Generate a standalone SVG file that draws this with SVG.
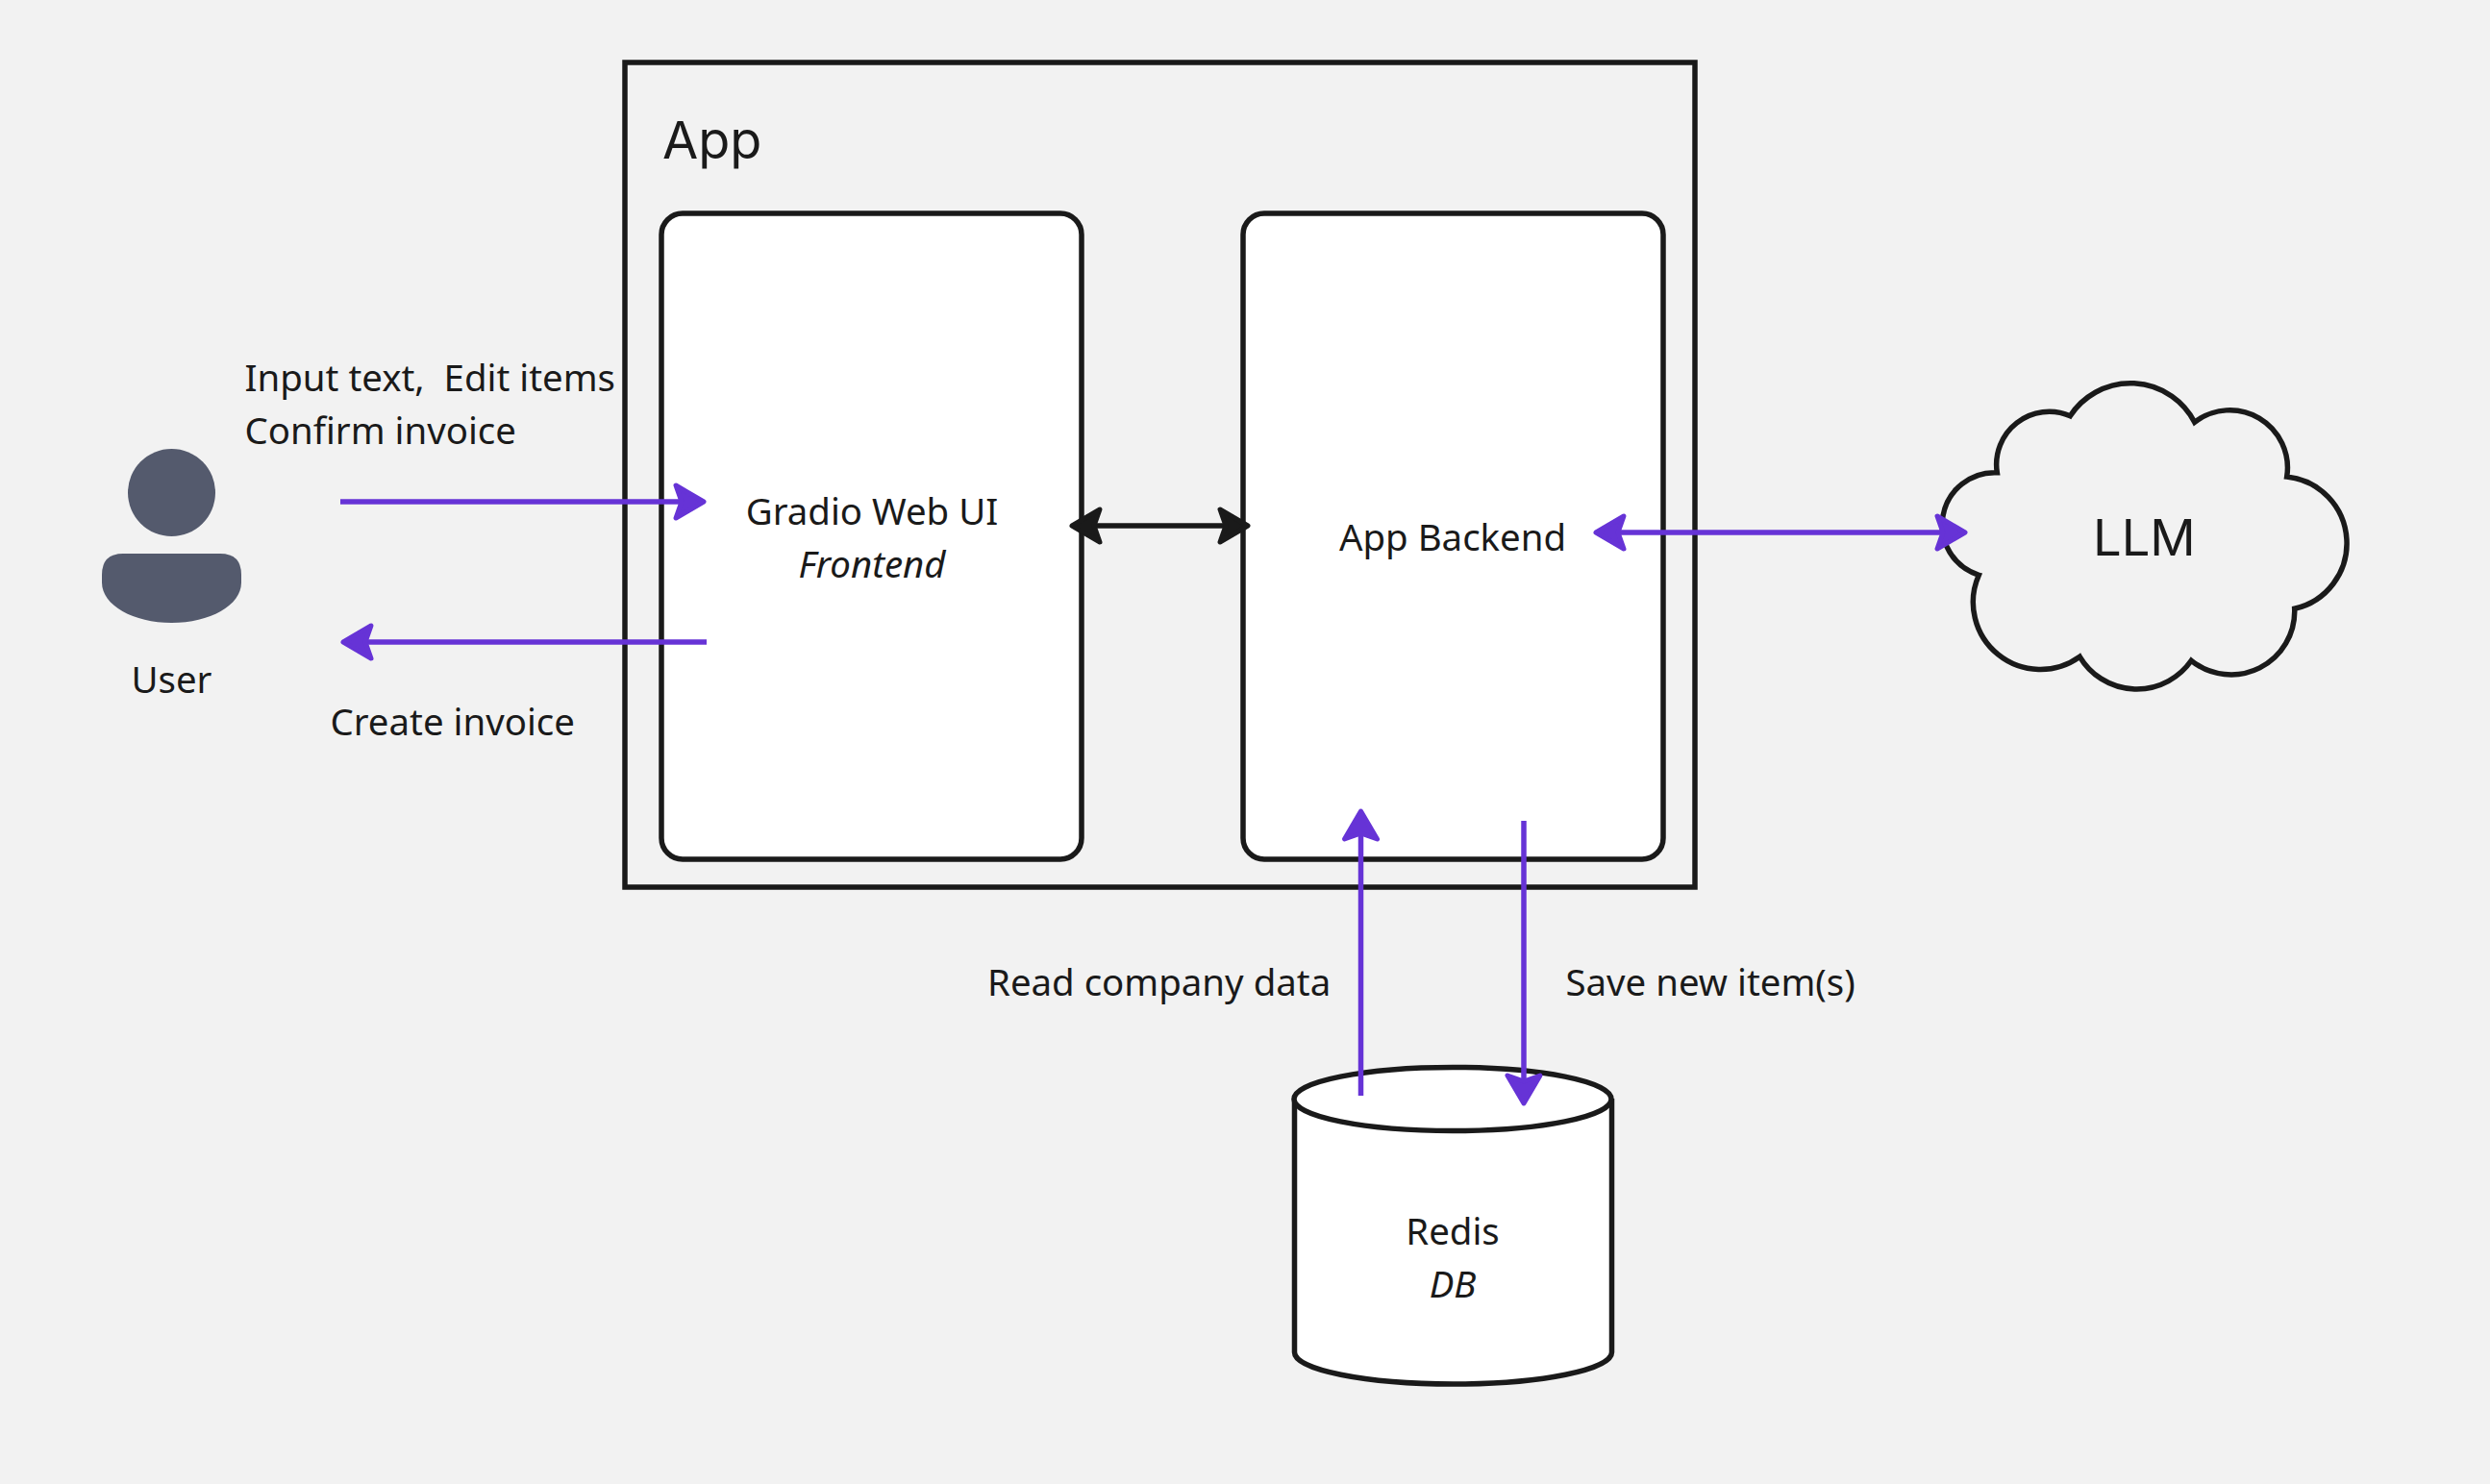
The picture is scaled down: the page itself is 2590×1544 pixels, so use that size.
<svg xmlns="http://www.w3.org/2000/svg" width="2590" height="1544" viewBox="0 0 2590 1544">
<style>
.box{fill:#fff;stroke:#1a1a1a;stroke-width:5.500;stroke-linejoin:round}
.t{font-family:"Noto Sans","DejaVu Sans",sans-serif;font-size:38.400px;fill:#1a1a1a}
.c{text-anchor:middle}
.i{font-style:italic}
.big{font-family:Inter,"Liberation Sans",sans-serif;fill:#1a1a1a}
.p{fill:none;stroke:#6633d6;stroke-width:5.500}
.k{fill:none;stroke:#1a1a1a;stroke-width:5.500}
</style>
<defs>
<marker id="hp" markerUnits="userSpaceOnUse" markerWidth="48" markerHeight="52" refX="27" refY="26" orient="auto-start-reverse"><path d="M5 9L34 26L5 43L11 26Z" fill="#6633d6" stroke="#6633d6" stroke-width="5" stroke-linejoin="round"/></marker>
<marker id="hk" markerUnits="userSpaceOnUse" markerWidth="48" markerHeight="52" refX="27" refY="26" orient="auto-start-reverse"><path d="M5 9L34 26L5 43L11 26Z" fill="#1a1a1a" stroke="#1a1a1a" stroke-width="5" stroke-linejoin="round"/></marker>
</defs>
<rect width="2590" height="1544" fill="#f2f2f2"/>
<g id="app"><rect x="650" y="65" width="1113" height="858" fill="none" stroke="#1a1a1a" stroke-width="5.500"/><text class="big" font-size="54" x="689" y="165">App</text></g>
<g id="frontend"><rect class="box" x="688" y="222" width="437" height="672" rx="22"/><text class="t c" x="907" y="546">Gradio Web UI</text><text class="t c i" x="907" y="601">Frontend</text></g>
<g id="backend"><rect class="box" x="1293" y="222" width="437" height="672" rx="22"/><text class="t c" x="1511" y="573">App Backend</text></g>
<g id="user"><circle cx="178.500" cy="512.500" r="45.500" fill="#545a6d"/><path d="M128 576H229Q251 576 251 598V606C251 630 218 648 178.500 648S106 630 106 606V598Q106 576 128 576Z" fill="#545a6d"/><text class="t c" x="178.500" y="721">User</text></g>
<g id="llm"><path d="M2077.300 491.700A55 55 0 0 1 2153.300 432.700A75 75 0 0 1 2282.700 439.300A60 60 0 0 1 2378.700 496A69.700 69.700 0 0 1 2386.700 633.300A66 66 0 0 1 2279.300 687.300A69 69 0 0 1 2163.300 683.300A70 70 0 0 1 2058.300 598.300A54.600 54.600 0 0 1 2077.300 491.700Z" fill="none" stroke="#1a1a1a" stroke-width="5.500"/><text class="big" font-size="52.500" x="2177" y="578">LLM</text></g>
<g id="redis"><path class="box" d="M1346.500 1143V1407C1346.500 1425 1420 1440 1511.500 1440S1676.500 1425 1676.500 1407V1143"/><ellipse class="box" cx="1511" cy="1143.500" rx="165" ry="33"/><text class="t c" x="1511" y="1295">Redis</text><text class="t c i" x="1511" y="1350">DB</text></g>
<g id="connectors">
<line class="p" x1="354" y1="522" x2="725" y2="522" marker-end="url(#hp)"/>
<line class="p" x1="735" y1="668" x2="364" y2="668" marker-end="url(#hp)"/>
<line class="k" x1="1122" y1="547" x2="1291" y2="547" marker-start="url(#hk)" marker-end="url(#hk)"/>
<line class="p" x1="1667" y1="554" x2="2037" y2="554" marker-start="url(#hp)" marker-end="url(#hp)"/>
<line class="p" x1="1415.500" y1="1140" x2="1415.500" y2="851" marker-end="url(#hp)"/>
<line class="p" x1="1585" y1="854" x2="1585" y2="1141" marker-end="url(#hp)"/>
</g>
<g id="labels">
<text class="t" x="254.500" y="407" xml:space="preserve">Input text,  Edit items</text>
<text class="t" x="254.500" y="462">Confirm invoice</text>
<text class="t" x="343.500" y="765">Create invoice</text>
<text class="t" x="1027" y="1036">Read company data</text>
<text class="t" x="1628.500" y="1036">Save new item(s)</text>
</g>
</svg>
